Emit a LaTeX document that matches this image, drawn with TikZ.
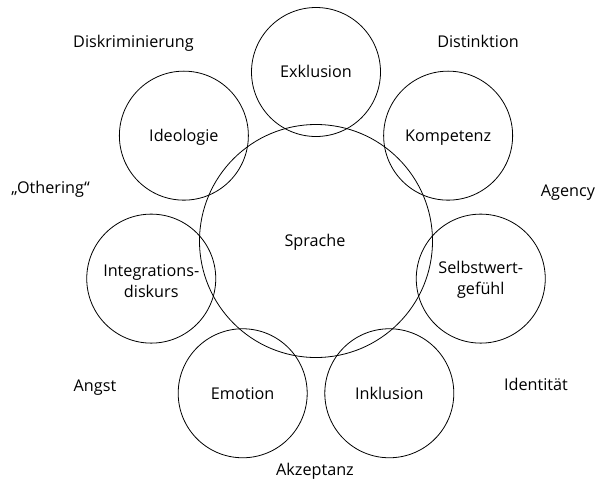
\documentclass[tikz,border=0pt]{standalone}
\usepackage{fontspec}
\setmainfont{Open Sans}
\begin{document}
\begin{tikzpicture}[x=1pt,y=-1pt,
  sat/.style={circle,draw,line width=0.8pt,minimum size=129pt,inner sep=0pt},
  hub/.style={circle,draw,line width=0.8pt,minimum size=233pt,inner sep=0pt},
  lbl/.style={font=\fontsize{16.2}{20}\selectfont,text height=11.5pt,text depth=0pt,inner sep=0pt},
  mlbl/.style={font=\fontsize{16.2}{21}\selectfont,align=center,inner sep=0pt}]
\useasboundingbox (0,0) rectangle (599,480);
\coordinate (C) at (316,241);
\node[hub] (sprache) at (C) {};
\node[lbl] (sprachet) at (315,241) {Sprache};
\foreach \n/\a in {exkl/90,komp/38.57,selbst/-12.86,inkl/-64.29,emo/-115.71,integ/-167.14,ideo/141.43}{
  \node[sat] (\n) at ([shift={(\a:169pt)}]C) {};
}
\node[lbl] at (exkl) {Exklusion};
\node[lbl] at (komp) {Kompetenz};
\node[mlbl] at ([yshift=-1pt]selbst.center) {Selbstwert-\\gefühl};
\node[lbl] at (inkl) {Inklusion};
\node[lbl] at (emo) {Emotion};
\node[mlbl] at ([yshift=-3pt]integ.center) {Integrations-\\diskurs};
\node[lbl] at (ideo) {Ideologie};
\node[lbl] (diskr) at (133.5,42) {Diskriminierung};
\node[lbl] (dist) at (478,42) {Distinktion};
\node[lbl] (agency) at (568,191) {Agency};
\node[lbl] (other) at (50.5,188) {„Othering“};
\node[lbl] (angst) at (95,386) {Angst};
\node[lbl] (ident) at (536,385) {Identität};
\node[lbl] (akz) at (315,470) {Akzeptanz};
\end{tikzpicture}
\end{document}
